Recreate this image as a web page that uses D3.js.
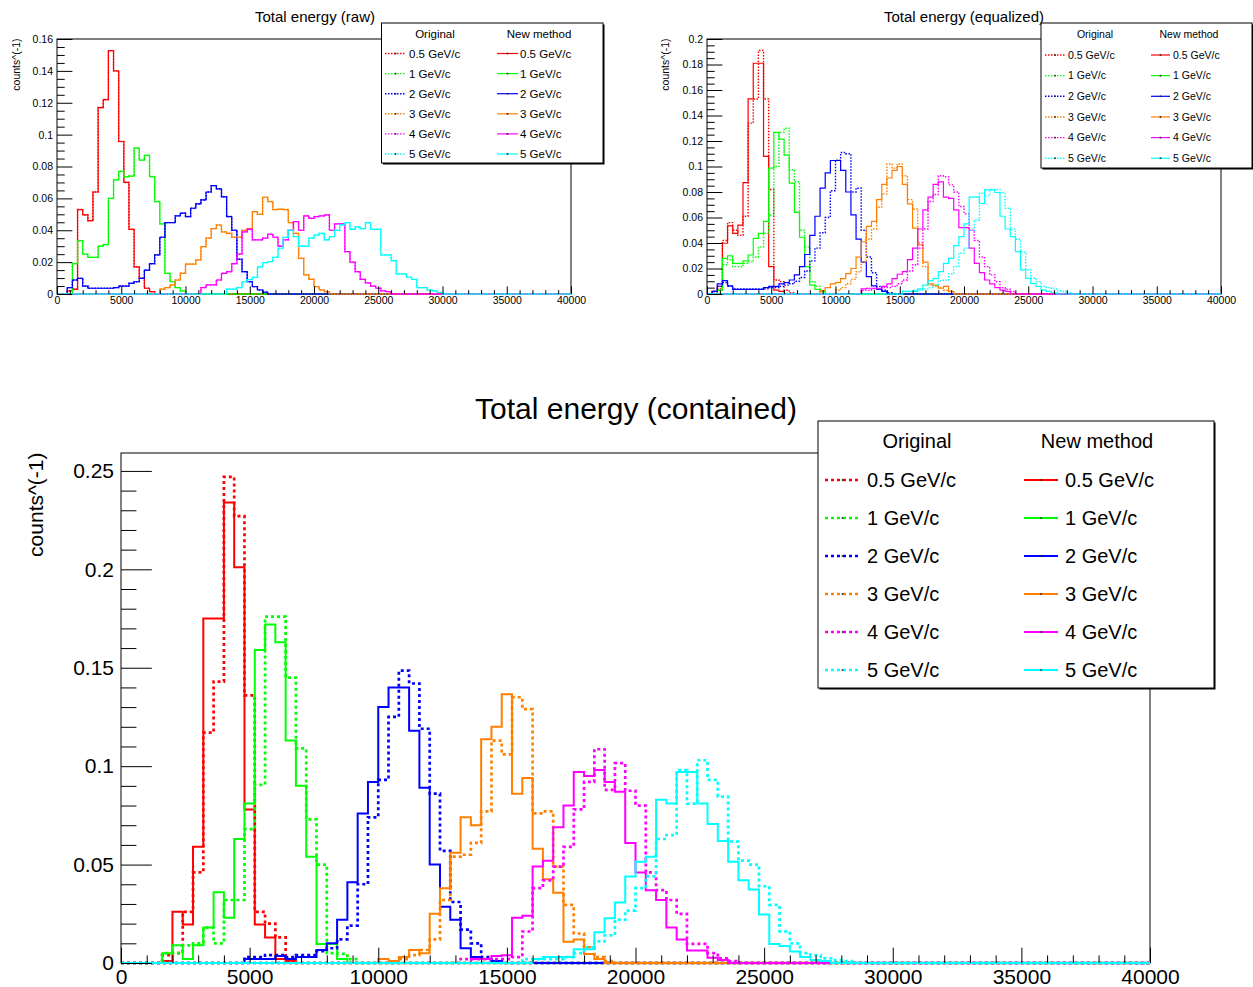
<!DOCTYPE html>
<html>
<head>
<meta charset="utf-8">
<script src="https://cdn.jsdelivr.net/npm/d3@7"></script>
<style>
  body { margin: 0; background: #fff; }
</style>
</head>
<body>
<svg id="chart" width="1253" height="987"></svg>
<script>
// histogram binning: 100 bins of 400 from 0 to 40000
const nBins = 100;
const binWidth = 400;

const momenta = ["0.5 GeV/c", "1 GeV/c", "2 GeV/c", "3 GeV/c", "4 GeV/c", "5 GeV/c"];
const lineColors = ["#ff0000", "#00ff00", "#0000ff", "#ff8000", "#ff00ff", "#00ffff"];

// every histogram = index of first non empty bin + bin contents (other bins are empty)

// raw: original and new method are the same here
const rawFirst = [2, 3, 2, 20, 28, 33];
const rawCounts = [
  [0.002, 0.003, 0.053, 0.0496, 0.046, 0.064, 0.117, 0.122, 0.1527, 0.140, 0.0957, 0.070, 0.0406, 0.017, 0.0098, 0.0036, 0.0015],
  [0.019, 0.0335, 0.025, 0.023, 0.023, 0.030, 0.031, 0.060, 0.0716, 0.0769, 0.0735, 0.074, 0.0915, 0.084, 0.087, 0.0737, 0.058, 0.044, 0.013, 0.0077, 0.004, 0.002],
  [0.004, 0.0088, 0.0098, 0.005, 0.0036, 0.0036, 0.0036, 0.0036, 0.0036, 0.004, 0.005, 0.005, 0.0067, 0.0077, 0.0098, 0.015, 0.019, 0.0245, 0.0356, 0.0448, 0.0448, 0.049, 0.0507, 0.0486, 0.0538, 0.0565, 0.059, 0.064, 0.068, 0.066, 0.061, 0.0486, 0.040, 0.0218, 0.014, 0.0077, 0.0046, 0.0025, 0.0012],
  [0.003, 0.004, 0.0057, 0.0088, 0.013, 0.0188, 0.0188, 0.0214, 0.0297, 0.035, 0.041, 0.0433, 0.039, 0.038, 0.0356, 0.0356, 0.040, 0.041, 0.0517, 0.050, 0.0607, 0.058, 0.053, 0.0532, 0.053, 0.0448, 0.038, 0.0224, 0.012, 0.0092, 0.0046, 0.0025, 0.0015],
  [0.004, 0.0057, 0.0057, 0.0088, 0.013, 0.014, 0.019, 0.025, 0.039, 0.0406, 0.034, 0.034, 0.035, 0.0375, 0.0356, 0.030, 0.034, 0.040, 0.0454, 0.040, 0.049, 0.0475, 0.0486, 0.049, 0.0496, 0.040, 0.044, 0.044, 0.0266, 0.020, 0.014, 0.0092, 0.007, 0.005, 0.0036, 0.002, 0.0015],
  [0.003, 0.003, 0.004, 0.0077, 0.009, 0.0105, 0.017, 0.0197, 0.0203, 0.023, 0.0287, 0.0356, 0.040, 0.036, 0.030, 0.030, 0.035, 0.037, 0.038, 0.034, 0.036, 0.040, 0.0433, 0.0448, 0.0406, 0.042, 0.041, 0.0448, 0.0406, 0.0406, 0.0245, 0.0245, 0.021, 0.0126, 0.0126, 0.0105, 0.0092, 0.004, 0.004, 0.0025, 0.002, 0.001]
];

// equalized
const eqOrigFirst = [1, 2, 1, 25, 30, 38];
const eqOrigCounts = [
  [0.002, 0.004, 0.042, 0.056, 0.050, 0.046, 0.061, 0.134, 0.153, 0.191, 0.153, 0.082, 0.011, 0.0097, 0.003, 0.001],
  [0.003, 0.023, 0.027, 0.0215, 0.0215, 0.024, 0.025, 0.029, 0.037, 0.0476, 0.062, 0.10, 0.127, 0.130, 0.0974, 0.088, 0.050, 0.037, 0.0097, 0.006, 0.002],
  [0.002, 0.006, 0.009, 0.006, 0.004, 0.004, 0.004, 0.004, 0.004, 0.004, 0.004, 0.005, 0.005, 0.006, 0.007, 0.008, 0.010, 0.013, 0.018, 0.026, 0.036, 0.048, 0.060, 0.081, 0.105, 0.111, 0.110, 0.080, 0.083, 0.050, 0.029, 0.0167, 0.006, 0.003, 0.001],
  [0.003, 0.005, 0.008, 0.0115, 0.0175, 0.025, 0.043, 0.051, 0.068, 0.0785, 0.102, 0.0987, 0.102, 0.0927, 0.074, 0.0665, 0.040, 0.0215, 0.007, 0.006, 0.005, 0.003, 0.002],
  [0.003, 0.003, 0.004, 0.004, 0.005, 0.005, 0.006, 0.008, 0.011, 0.018, 0.023, 0.036, 0.051, 0.0725, 0.078, 0.0927, 0.092, 0.0856, 0.080, 0.0686, 0.063, 0.050, 0.042, 0.029, 0.0215, 0.015, 0.0097, 0.005, 0.0037, 0.002],
  [0.002, 0.002, 0.003, 0.003, 0.004, 0.005, 0.007, 0.0105, 0.011, 0.0157, 0.0215, 0.032, 0.036, 0.050, 0.058, 0.079, 0.077, 0.082, 0.082, 0.0796, 0.0673, 0.051, 0.043, 0.033, 0.019, 0.0123, 0.0097, 0.006, 0.005, 0.004, 0.0025, 0.002, 0.001]
];
const eqNewFirst = [1, 2, 1, 22, 30, 38];
const eqNewCounts = [
  [0.002, 0.006, 0.0398, 0.0534, 0.0476, 0.054, 0.0874, 0.153, 0.181, 0.181, 0.108, 0.0215, 0.003, 0.002],
  [0.003, 0.028, 0.030, 0.024, 0.024, 0.026, 0.0306, 0.0437, 0.0476, 0.057, 0.0987, 0.1267, 0.1215, 0.109, 0.087, 0.064, 0.0445, 0.0215, 0.007, 0.0037, 0.002],
  [0.002, 0.008, 0.0105, 0.0063, 0.0037, 0.0037, 0.0037, 0.0037, 0.0037, 0.0037, 0.005, 0.006, 0.006, 0.008, 0.009, 0.011, 0.015, 0.0215, 0.031, 0.046, 0.061, 0.083, 0.095, 0.1047, 0.1047, 0.097, 0.080, 0.062, 0.043, 0.025, 0.0136, 0.0063, 0.0037, 0.002],
  [0.0026, 0.005, 0.008, 0.009, 0.012, 0.016, 0.020, 0.029, 0.041, 0.053, 0.057, 0.074, 0.086, 0.091, 0.097, 0.100, 0.086, 0.0707, 0.0516, 0.0385, 0.025, 0.008, 0.007, 0.0045, 0.006, 0.002],
  [0.004, 0.0045, 0.0045, 0.0045, 0.006, 0.008, 0.012, 0.0155, 0.0175, 0.027, 0.036, 0.051, 0.066, 0.076, 0.086, 0.088, 0.076, 0.075, 0.066, 0.052, 0.052, 0.036, 0.024, 0.0167, 0.011, 0.008, 0.005, 0.003, 0.002],
  [0.002, 0.002, 0.002, 0.004, 0.007, 0.0105, 0.012, 0.0175, 0.024, 0.028, 0.038, 0.045, 0.055, 0.076, 0.076, 0.071, 0.0817, 0.0817, 0.0796, 0.061, 0.051, 0.045, 0.0332, 0.019, 0.0123, 0.0084, 0.006, 0.003, 0.002, 0.001]
];

// contained
const conOrigFirst = [4, 4, 12, 27, 33, 39];
const conOrigCounts = [
  [0.004, 0.005, 0.026, 0.046, 0.117, 0.143, 0.247, 0.227, 0.136, 0.026, 0.02, 0.013, 0.002],
  [0.005, 0.005, 0.009, 0.01, 0.018, 0.01, 0.032, 0.032, 0.068, 0.0905, 0.176, 0.176, 0.145, 0.109, 0.073, 0.050, 0.005, 0.0046, 0.002],
  [0.003, 0.003, 0.004, 0.004, 0.003, 0.004, 0.004, 0.006, 0.0075, 0.012, 0.019, 0.040, 0.074, 0.093, 0.125, 0.1485, 0.142, 0.119, 0.086, 0.057, 0.031, 0.017, 0.010, 0.003, 0.001],
  [0.002, 0.004, 0.0066, 0.012, 0.032, 0.054, 0.055, 0.061, 0.077, 0.113, 0.106, 0.135, 0.129, 0.076, 0.077, 0.049, 0.0295, 0.015, 0.008, 0.003, 0.001],
  [0.002, 0.002, 0.002, 0.002, 0.002, 0.003, 0.016, 0.038, 0.042, 0.049, 0.059, 0.078, 0.092, 0.1086, 0.088, 0.1015, 0.0875, 0.080, 0.046, 0.037, 0.032, 0.025, 0.0097, 0.0097, 0.005, 0.0024, 0.001],
  [0.002, 0.002, 0.002, 0.002, 0.003, 0.005, 0.008, 0.011, 0.014, 0.022, 0.0266, 0.038, 0.044, 0.063, 0.065, 0.098, 0.081, 0.103, 0.093, 0.0845, 0.0617, 0.052, 0.05, 0.039, 0.0295, 0.016, 0.010, 0.005, 0.004, 0.0024, 0.0015, 0.001]
];
const conNewFirst = [4, 4, 12, 25, 34, 40];
const conNewCounts = [
  [0.001, 0.026, 0.0196, 0.059, 0.175, 0.175, 0.234, 0.201, 0.078, 0.0196, 0.0129, 0.002, 0.001],
  [0.005, 0.009, 0.002, 0.009, 0.018, 0.036, 0.023, 0.063, 0.081, 0.159, 0.172, 0.163, 0.113, 0.090, 0.054, 0.0097, 0.0097, 0.002],
  [0.002, 0.002, 0.002, 0.0036, 0.002, 0.003, 0.003, 0.0066, 0.010, 0.022, 0.041, 0.076, 0.092, 0.130, 0.140, 0.140, 0.118, 0.089, 0.050, 0.0286, 0.022, 0.0075, 0.003, 0.002, 0.001],
  [0.002, 0.001, 0.003, 0.0066, 0.005, 0.025, 0.038, 0.056, 0.074, 0.070, 0.1137, 0.120, 0.1365, 0.086, 0.094, 0.058, 0.0425, 0.0357, 0.0108, 0.012, 0.0046, 0.002],
  [0.002, 0.002, 0.0036, 0.004, 0.023, 0.024, 0.049, 0.052, 0.069, 0.080, 0.097, 0.095, 0.098, 0.092, 0.087, 0.061, 0.046, 0.037, 0.032, 0.018, 0.012, 0.0063, 0.0063, 0.0027, 0.0015],
  [0.002, 0.003, 0.003, 0.003, 0.007, 0.007, 0.0156, 0.0227, 0.0307, 0.044, 0.0515, 0.054, 0.083, 0.081, 0.097, 0.097, 0.081, 0.0706, 0.062, 0.0515, 0.042, 0.0374, 0.0247, 0.0097, 0.0086, 0.0058, 0.003, 0.0015, 0.001]
];

const FONT = "'Liberation Sans', Arial, Helvetica, sans-serif";
const svg = d3.select("#chart");

//layout of the three pads
const panels = [
  { title: "Total energy (raw)", titleX: 315, titleY: 22, titleSize: 15,
    left: 57, right: 571, top: 39, bottom: 294, ymax: 0.16, yMajor: 0.02, yMinorDiv: 4,
    tickFont: 10.5, xPad: 2.5, yPad: 4, yTitleX: 19.5, yTitleSize: 10.5,
    solidW: 1.2, dotW: 1.4, dash: "1.5,1.5",
    orig: [rawFirst, rawCounts], neu: [rawFirst, rawCounts],
    legend: { x0: 381.5, x1: 603, y0: 23, y1: 163, font: 11.5, headY: 34, headO: 435, headN: 539,
              row0: 53.5, rowStep: 20.1, oL: 385, oR: 406, oT: 409, nL: 497, nR: 518, nT: 520 } },
  { title: "Total energy (equalized)", titleX: 964, titleY: 22, titleSize: 15,
    left: 707, right: 1221, top: 39, bottom: 294, ymax: 0.2, yMajor: 0.02, yMinorDiv: 4,
    tickFont: 10.5, xPad: 2.5, yPad: 4, yTitleX: 668.5, yTitleSize: 10.5,
    solidW: 1.2, dotW: 1.4, dash: "1.5,1.5",
    orig: [eqOrigFirst, eqOrigCounts], neu: [eqNewFirst, eqNewCounts],
    legend: { x0: 1041, x1: 1252, y0: 23, y1: 168, font: 10.5, headY: 34, headO: 1095, headN: 1189,
              row0: 55, rowStep: 20.65, oL: 1045, oR: 1065, oT: 1068, nL: 1151, nR: 1170, nT: 1173 } },
  { title: "Total energy (contained)", titleX: 636, titleY: 419, titleSize: 30,
    left: 121, right: 1150, top: 453, bottom: 963, ymax: 0.2591, yMajor: 0.05, yMinorDiv: 5,
    tickFont: 21, xPad: 6, yPad: 7, yTitleX: 43, yTitleSize: 21,
    solidW: 2, dotW: 2.7, dash: "3,3",
    orig: [conOrigFirst, conOrigCounts], neu: [conNewFirst, conNewCounts],
    legend: { x0: 818, x1: 1214, y0: 421, y1: 688, font: 20, headY: 441, headO: 917, headN: 1097,
              row0: 480, rowStep: 38, oL: 825, oR: 860, oT: 867, nL: 1024, nR: 1058, nT: 1065 } }
];

function binPoints(first, counts){
  let pts = [];
  for(let k = 0; k <= nBins; k++){
    let i = Math.min(k, nBins - 1) - first;
    let v = (i >= 0 && i < counts.length) ? counts[i] : 0;
    pts.push({x: k * binWidth, y: v});
  }
  return pts;
}

function fmtY(v){ return String(+v.toFixed(3)); }

function drawPanel(p){
  const g = svg.append("g");
  const x = d3.scaleLinear().domain([0, nBins * binWidth]).range([p.left, p.right]);
  const y = d3.scaleLinear().domain([0, p.ymax]).range([p.bottom, p.top]);

  // title
  g.append("text").attr("x", p.titleX).attr("y", p.titleY)
    .attr("text-anchor", "middle").attr("font-family", FONT).attr("font-size", p.titleSize)
    .text(p.title);

  // frame
  g.append("rect").attr("x", p.left).attr("y", p.top)
    .attr("width", p.right - p.left).attr("height", p.bottom - p.top)
    .attr("fill", "none").attr("stroke", "#000").attr("stroke-width", 1);

  const line = d3.line().x(d => x(d.x)).y(d => y(d.y)).curve(d3.curveStepAfter);

  momenta.forEach((m, i) => {
    g.append("path")
      .attr("d", line(binPoints(p.neu[0][i], p.neu[1][i])))
      .attr("fill", "none").attr("stroke", lineColors[i]).attr("stroke-width", p.solidW);
    g.append("path")
      .attr("d", line(binPoints(p.orig[0][i], p.orig[1][i])))
      .attr("fill", "none").attr("stroke", lineColors[i]).attr("stroke-width", p.dotW)
      .attr("stroke-dasharray", p.dash);
  });

  // axes, ticks inside the frame like root
  const xLen = 0.03 * (p.bottom - p.top);
  const yLen = 0.03 * (p.right - p.left);
  const xMajors = d3.range(0, 9).map(i => i * 5000);
  const xMinors = d3.range(0, 41).map(i => i * 1000).filter(v => v % 5000 != 0);
  const nMaj = Math.floor(p.ymax / p.yMajor + 1e-6);
  const yMajors = d3.range(0, nMaj + 1).map(i => i * p.yMajor);
  const yStep = p.yMajor / p.yMinorDiv;
  const yMinors = d3.range(0, Math.floor(p.ymax / yStep + 1e-6) + 1).map(i => i * yStep)
    .filter((v, i) => i % p.yMinorDiv != 0);

  const xa = g.append("g").attr("transform", `translate(0,${p.bottom})`);
  xa.call(d3.axisBottom(x).tickValues(xMajors).tickSize(-xLen).tickPadding(p.xPad).tickFormat(d3.format("d")));
  xa.append("g").call(d3.axisBottom(x).tickValues(xMinors).tickSize(-xLen / 2).tickFormat(""));
  xa.selectAll(".domain").remove();
  xa.attr("font-family", FONT).attr("font-size", p.tickFont);
  xa.selectAll("g").attr("font-family", FONT).attr("font-size", p.tickFont);

  const ya = g.append("g").attr("transform", `translate(${p.left},0)`);
  ya.call(d3.axisLeft(y).tickValues(yMajors).tickSize(-yLen).tickPadding(p.yPad).tickFormat(fmtY));
  ya.append("g").call(d3.axisLeft(y).tickValues(yMinors).tickSize(-yLen / 2).tickFormat(""));
  ya.selectAll(".domain").remove();
  ya.attr("font-family", FONT).attr("font-size", p.tickFont);
  ya.selectAll("g").attr("font-family", FONT).attr("font-size", p.tickFont);

  // y title, right adjusted to the top of the axis
  g.append("text")
    .attr("transform", `translate(${p.yTitleX},${p.top - 0.5}) rotate(-90)`)
    .attr("text-anchor", "end").attr("font-family", FONT).attr("font-size", p.yTitleSize)
    .text("counts^(-1)");

  drawLegend(p);
}

function drawLegend(p){
  const L = p.legend;
  const g = svg.append("g").attr("font-family", FONT).attr("font-size", L.font);
  g.append("rect").attr("x", L.x0 + 1.5).attr("y", L.y0 + 1.5)
    .attr("width", L.x1 - L.x0).attr("height", L.y1 - L.y0).attr("fill", "#000");
  g.append("rect").attr("x", L.x0).attr("y", L.y0)
    .attr("width", L.x1 - L.x0).attr("height", L.y1 - L.y0)
    .attr("fill", "#fff").attr("stroke", "#000").attr("stroke-width", 1);

  g.append("text").attr("x", L.headO).attr("y", L.headY + 0.35 * L.font)
    .attr("text-anchor", "middle").text("Original");
  g.append("text").attr("x", L.headN).attr("y", L.headY + 0.35 * L.font)
    .attr("text-anchor", "middle").text("New method");

  momenta.forEach((m, i) => {
    let ry = L.row0 + i * L.rowStep;
    g.append("line").attr("x1", L.oL).attr("x2", L.oR).attr("y1", ry).attr("y2", ry)
      .attr("stroke", lineColors[i]).attr("stroke-width", p.dotW).attr("stroke-dasharray", p.dash);
    g.append("line").attr("x1", L.nL).attr("x2", L.nR).attr("y1", ry).attr("y2", ry)
      .attr("stroke", lineColors[i]).attr("stroke-width", p.solidW);
    // tiny marker in the middle of each sample
    [ (L.oL + L.oR) / 2, (L.nL + L.nR) / 2 ].forEach(cx => {
      g.append("rect").attr("x", cx - 0.8).attr("y", ry - 0.8).attr("width", 1.6).attr("height", 1.6).attr("fill", "#222");
    });
    g.append("text").attr("x", L.oT).attr("y", ry + 0.35 * L.font).text(m);
    g.append("text").attr("x", L.nT).attr("y", ry + 0.35 * L.font).text(m);
  });
}

panels.forEach(drawPanel);
</script>
</body>
</html>
